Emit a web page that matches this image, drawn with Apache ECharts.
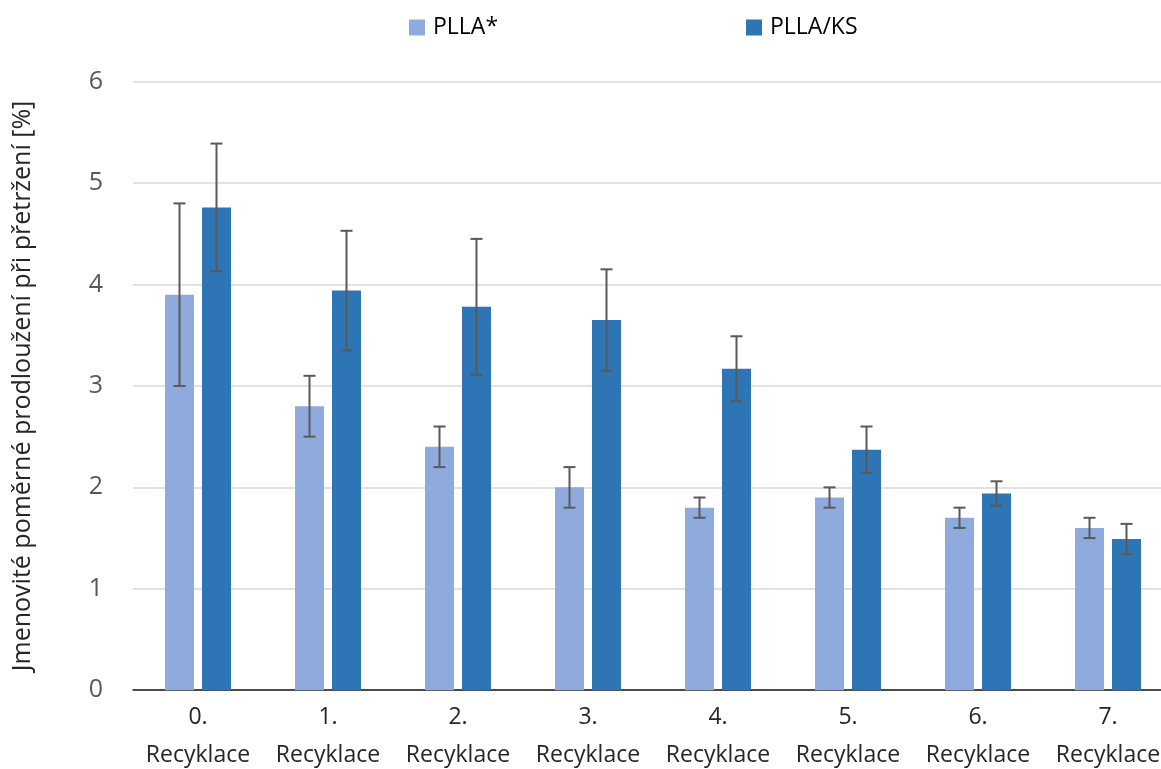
<!DOCTYPE html>
<html>
<head>
<meta charset="utf-8">
<script src="https://cdn.jsdelivr.net/npm/echarts@6/dist/echarts.min.js"></script>
<style>
html,body{margin:0;padding:0;background:#fff;overflow:hidden;}
#chart{width:1161px;height:769px;}
</style>
</head>
<body>
<div id="chart"></div>
<script>
var categories = ['0.\nRecyklace','1.\nRecyklace','2.\nRecyklace','3.\nRecyklace','4.\nRecyklace','5.\nRecyklace','6.\nRecyklace','7.\nRecyklace'];
var seriesNames = ['PLLA*','PLLA/KS'];
var pllaValues = [3.90, 2.80, 2.40, 2.00, 1.80, 1.90, 1.70, 1.60];
var pllaErrors = [0.90, 0.30, 0.20, 0.20, 0.10, 0.10, 0.10, 0.10];
var ksValues = [4.76, 3.94, 3.78, 3.65, 3.17, 2.37, 1.94, 1.49];
var ksErrors = [0.63, 0.59, 0.67, 0.50, 0.32, 0.23, 0.12, 0.15];
var yTicks = [0, 1, 2, 3, 4, 5, 6];
var yTitle = 'Jmenovité poměrné prodloužení při přetržení [%]';

var FONT = '"Open Sans", "Noto Sans", sans-serif';
var C1 = '#8FAADC', C2 = '#2E75B6', ERR = '#595959';
var BAR_W = 29, BAR_GAP_PX = 8;

function errData(vals, errs){
  return vals.map(function(v,i){ return [i, v - errs[i], v + errs[i]]; });
}
function errRender(sign){
  return function(params, api){
    var idx = api.value(0);
    var off = sign * (BAR_W + BAR_GAP_PX) / 2;
    var x = api.coord([idx, 0])[0] + off;
    var yl = api.coord([idx, api.value(1)])[1];
    var yh = api.coord([idx, api.value(2)])[1];
    var hw = 6;
    var st = {stroke: ERR, lineWidth: 2};
    return {type:'group', children:[
      {type:'line', shape:{x1:x,y1:yh,x2:x,y2:yl}, style:st},
      {type:'line', shape:{x1:x-hw,y1:yh,x2:x+hw,y2:yh}, style:st},
      {type:'line', shape:{x1:x-hw,y1:yl,x2:x+hw,y2:yl}, style:st}
    ]};
  };
}

var chart = echarts.init(document.getElementById('chart'), null, {renderer:'canvas'});
chart.setOption({
  animation:false,
  backgroundColor:'#fff',
  legend:[
    {data:[seriesNames[0]], left:404, top:11, itemWidth:16, itemHeight:16, itemGap:0,
     textStyle:{fontFamily:FONT, fontSize:23, color:'#000', padding:[0,0,0,3]}, icon:'rect'},
    {data:[seriesNames[1]], left:741, top:11, itemWidth:16, itemHeight:16, itemGap:0,
     textStyle:{fontFamily:FONT, fontSize:23, color:'#000', padding:[0,0,0,3]}, icon:'rect'}
  ],
  grid:{left:133, top:81.7, width:1040, height:608.5, containLabel:false, outerBoundsMode:'none'},
  xAxis:{
    type:'category', data:categories,
    axisLine:{show:true, lineStyle:{color:'#1a1a1a', width:1.5}},
    axisTick:{show:false},
    axisLabel:{fontFamily:FONT, fontSize:23, color:'#262626', lineHeight:38, margin:8, interval:0}
  },
  yAxis:{
    type:'value', min:yTicks[0], max:yTicks[yTicks.length-1], interval:1,
    name:yTitle, nameLocation:'middle', nameGap:98, nameRotate:90,
    nameTextStyle:{fontFamily:FONT, fontSize:25, color:'#262626'},
    axisLine:{show:false}, axisTick:{show:false},
    axisLabel:{fontFamily:FONT, fontSize:25, color:'#595959', margin:30},
    splitLine:{lineStyle:{color:'#D9D9D9', width:1.5}}
  },
  series:[
    {name:seriesNames[0], type:'bar', data:pllaValues, barWidth:BAR_W, barGap:(BAR_GAP_PX/BAR_W*100)+'%',
     itemStyle:{color:C1}},
    {name:seriesNames[1], type:'bar', data:ksValues, barWidth:BAR_W, barGap:(BAR_GAP_PX/BAR_W*100)+'%',
     itemStyle:{color:C2}},
    {type:'custom', renderItem:errRender(-1), data:errData(pllaValues, pllaErrors), z:10,
     encode:{x:0, y:[1,2]}, silent:true},
    {type:'custom', renderItem:errRender(1), data:errData(ksValues, ksErrors), z:10,
     encode:{x:0, y:[1,2]}, silent:true}
  ]
});
</script>
</body>
</html>
